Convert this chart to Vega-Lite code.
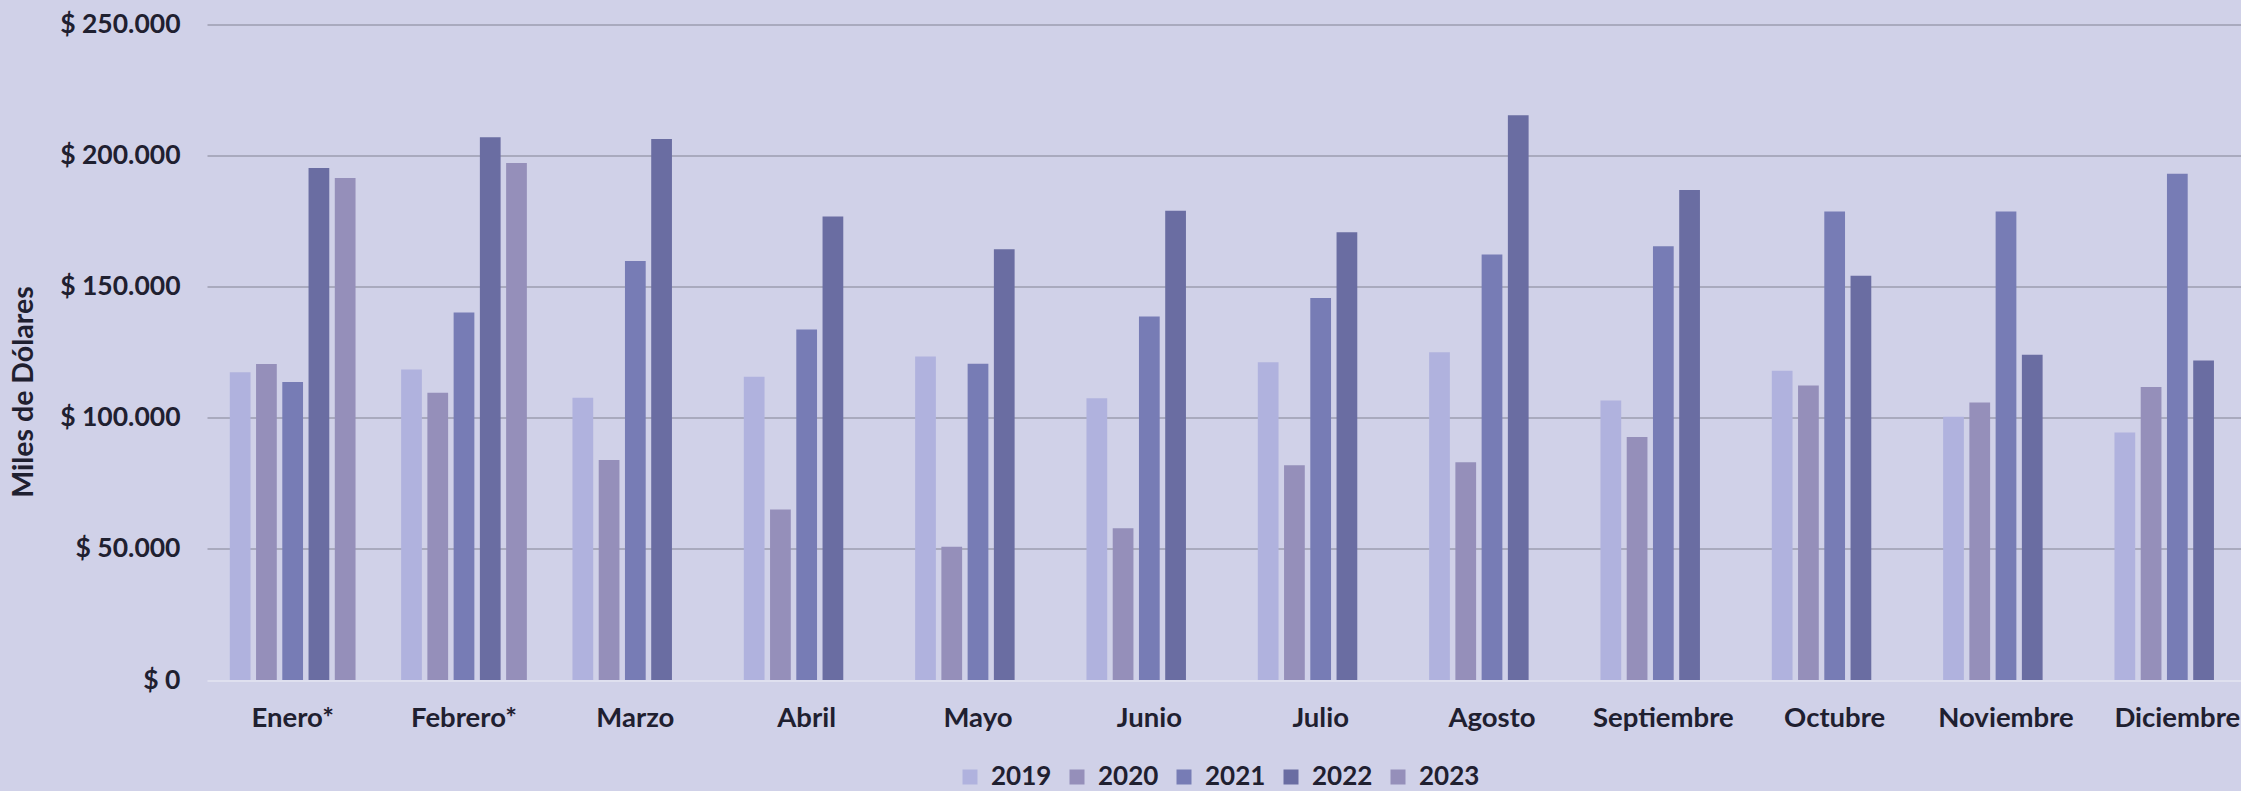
{
  "$schema": "https://vega.github.io/schema/vega-lite/v6.json",
  "width": 2034,
  "height": 655.5,
  "autosize": {"type": "none"},
  "padding": {"left": 207, "top": 24.5, "right": 0, "bottom": 111},
  "background": "#d0d1e8",
  "config": {"view": {"stroke": null}, "font": "Lato"},
  "data": {
    "values": [
      {"mes": "Enero*", "anio": "2019", "valor": 117400},
      {"mes": "Enero*", "anio": "2020", "valor": 120500},
      {"mes": "Enero*", "anio": "2021", "valor": 113700},
      {"mes": "Enero*", "anio": "2022", "valor": 195300},
      {"mes": "Enero*", "anio": "2023", "valor": 191500},
      {"mes": "Febrero*", "anio": "2019", "valor": 118400},
      {"mes": "Febrero*", "anio": "2020", "valor": 109600},
      {"mes": "Febrero*", "anio": "2021", "valor": 140200},
      {"mes": "Febrero*", "anio": "2022", "valor": 207000},
      {"mes": "Febrero*", "anio": "2023", "valor": 197200},
      {"mes": "Marzo", "anio": "2019", "valor": 107600},
      {"mes": "Marzo", "anio": "2020", "valor": 83900},
      {"mes": "Marzo", "anio": "2021", "valor": 159800},
      {"mes": "Marzo", "anio": "2022", "valor": 206300},
      {"mes": "Abril", "anio": "2019", "valor": 115700},
      {"mes": "Abril", "anio": "2020", "valor": 65000},
      {"mes": "Abril", "anio": "2021", "valor": 133700},
      {"mes": "Abril", "anio": "2022", "valor": 176800},
      {"mes": "Mayo", "anio": "2019", "valor": 123400},
      {"mes": "Mayo", "anio": "2020", "valor": 50800},
      {"mes": "Mayo", "anio": "2021", "valor": 120600},
      {"mes": "Mayo", "anio": "2022", "valor": 164300},
      {"mes": "Junio", "anio": "2019", "valor": 107500},
      {"mes": "Junio", "anio": "2020", "valor": 57900},
      {"mes": "Junio", "anio": "2021", "valor": 138600},
      {"mes": "Junio", "anio": "2022", "valor": 179000},
      {"mes": "Julio", "anio": "2019", "valor": 121200},
      {"mes": "Julio", "anio": "2020", "valor": 81900},
      {"mes": "Julio", "anio": "2021", "valor": 145700},
      {"mes": "Julio", "anio": "2022", "valor": 170800},
      {"mes": "Agosto", "anio": "2019", "valor": 125000},
      {"mes": "Agosto", "anio": "2020", "valor": 83000},
      {"mes": "Agosto", "anio": "2021", "valor": 162300},
      {"mes": "Agosto", "anio": "2022", "valor": 215400},
      {"mes": "Septiembre", "anio": "2019", "valor": 106600},
      {"mes": "Septiembre", "anio": "2020", "valor": 92700},
      {"mes": "Septiembre", "anio": "2021", "valor": 165400},
      {"mes": "Septiembre", "anio": "2022", "valor": 186900},
      {"mes": "Octubre", "anio": "2019", "valor": 117900},
      {"mes": "Octubre", "anio": "2020", "valor": 112300},
      {"mes": "Octubre", "anio": "2021", "valor": 178700},
      {"mes": "Octubre", "anio": "2022", "valor": 154200},
      {"mes": "Noviembre", "anio": "2019", "valor": 100400},
      {"mes": "Noviembre", "anio": "2020", "valor": 105800},
      {"mes": "Noviembre", "anio": "2021", "valor": 178700},
      {"mes": "Noviembre", "anio": "2022", "valor": 124000},
      {"mes": "Diciembre", "anio": "2019", "valor": 94400},
      {"mes": "Diciembre", "anio": "2020", "valor": 111700},
      {"mes": "Diciembre", "anio": "2021", "valor": 193100},
      {"mes": "Diciembre", "anio": "2022", "valor": 121900}
    ]
  },
  "mark": {"type": "bar"},
  "encoding": {
    "x": {
      "field": "mes",
      "type": "nominal",
      "sort": ["Enero*", "Febrero*", "Marzo", "Abril", "Mayo", "Junio", "Julio", "Agosto", "Septiembre", "Octubre", "Noviembre", "Diciembre"],
      "scale": {"range": [0, 2056], "paddingInner": 0.234, "paddingOuter": 0.117},
      "axis": {
        "title": null,
        "labelAngle": 0,
        "labelFont": "Lato",
        "labelFontSize": 27.5,
        "labelFontWeight": "bold",
        "labelColor": "#1f2030",
        "labelBaseline": "alphabetic",
        "labelPadding": 46,
        "labelOverlap": false,
        "labelBound": false,
        "ticks": false,
        "tickSize": 0,
        "domain": false,
        "grid": false
      }
    },
    "xOffset": {
      "field": "anio",
      "type": "nominal",
      "sort": ["2019", "2020", "2021", "2022", "2023"],
      "scale": {"domain": ["2019", "2020", "2021", "2022", "2023"], "paddingInner": 0.21, "paddingOuter": 0.105}
    },
    "y": {
      "field": "valor",
      "type": "quantitative",
      "scale": {"domain": [0, 250000], "nice": false},
      "axis": {
        "values": [0, 50000, 100000, 150000, 200000, 250000],
        "labelExpr": "'$ ' + replace(format(datum.value, ','), ',', '.')",
        "labelFont": "Lato",
        "labelFontSize": 26.5,
        "labelFontWeight": "bold",
        "labelColor": "#1f2030",
        "labelPadding": 27,
        "ticks": false,
        "domain": false,
        "grid": true,
        "gridColor": {"condition": {"test": "datum.value === 0", "value": "#e4e5f2"}, "value": "#9d9db0"},
        "gridWidth": 1.6,
        "title": "Miles de Dólares",
        "titleFont": "Lato",
        "titleFontSize": 28.5,
        "titleFontWeight": "bold",
        "titleColor": "#1f2030",
        "titleAngle": -90,
        "titleAlign": "center",
        "titleBaseline": "middle",
        "titleX": -184,
        "titleY": 367
      }
    },
    "color": {
      "field": "anio",
      "type": "nominal",
      "scale": {
        "domain": ["2019", "2020", "2021", "2022", "2023"],
        "range": ["#b0b2de", "#958fba", "#777cb5", "#6a6da2", "#958fba"]
      },
      "legend": {
        "title": null,
        "orient": "none",
        "direction": "horizontal",
        "legendX": 750,
        "legendY": 739.5,
        "padding": 0,
        "symbolType": "square",
        "symbolSize": 225,
        "symbolStrokeWidth": 0,
        "labelFont": "Lato",
        "labelFontSize": 26,
        "labelFontWeight": "bold",
        "labelColor": "#1f2030",
        "labelOffset": 8,
        "columnPadding": 12
      }
    }
  }
}
